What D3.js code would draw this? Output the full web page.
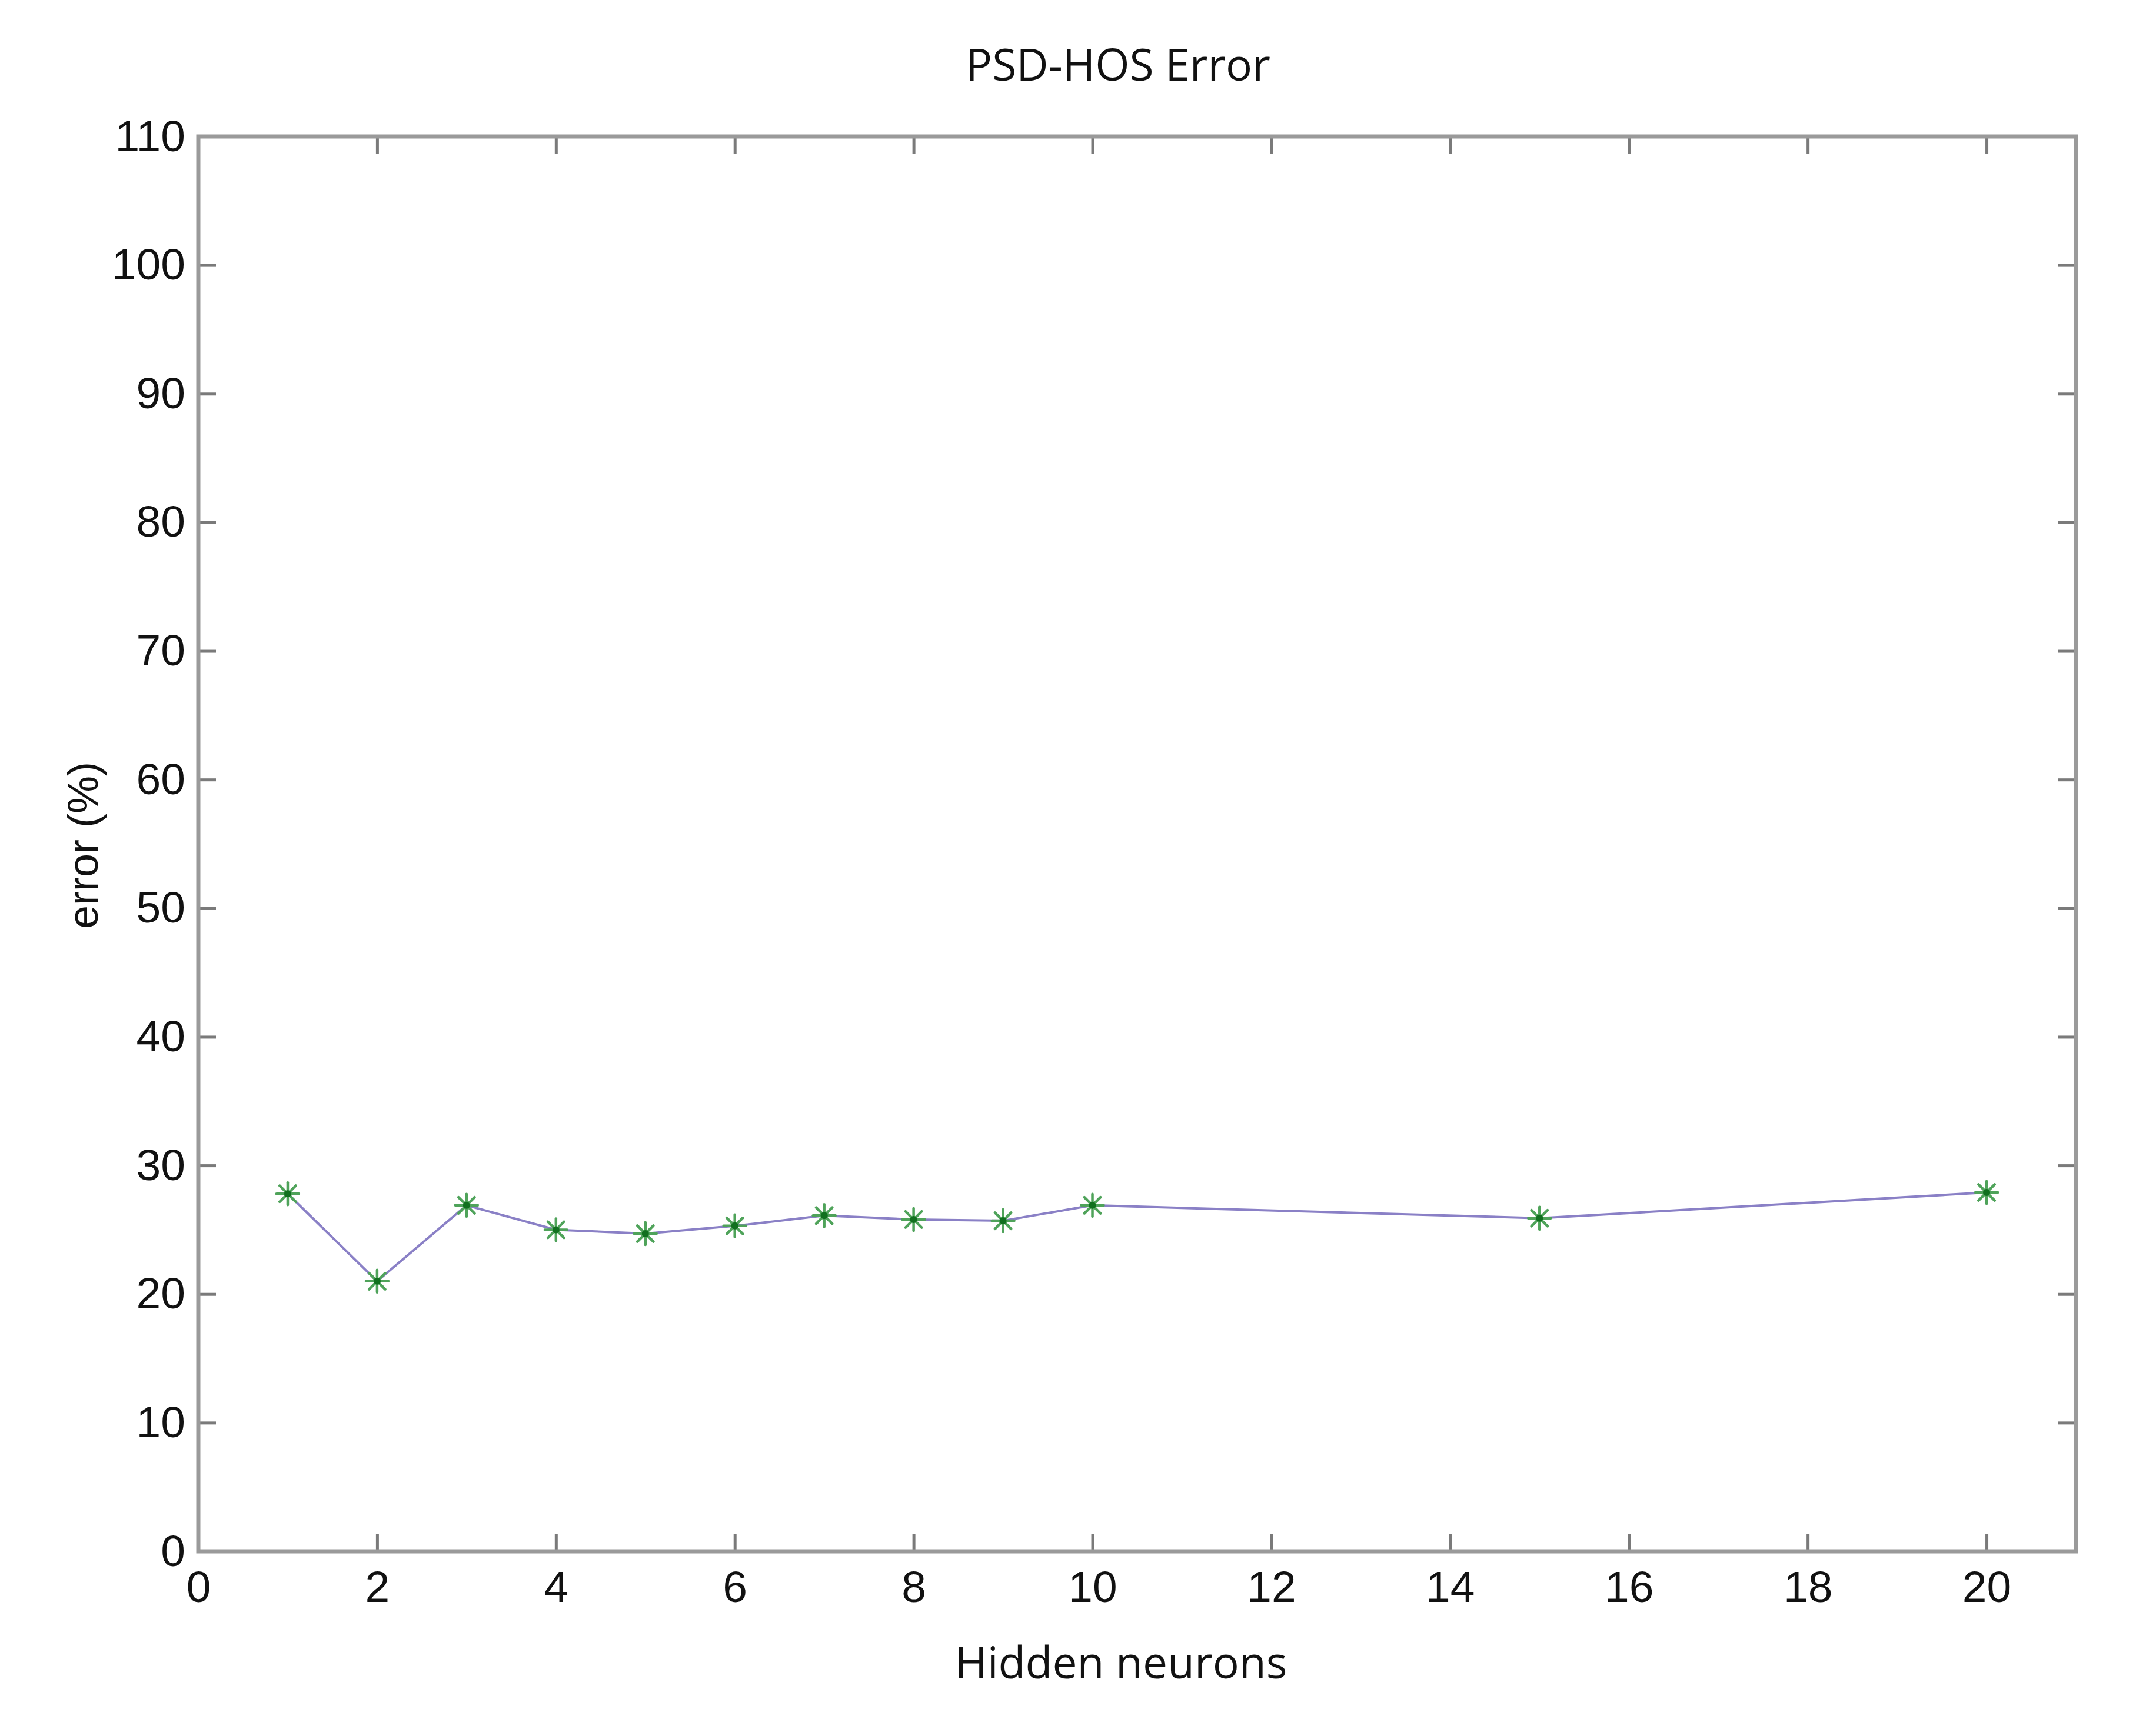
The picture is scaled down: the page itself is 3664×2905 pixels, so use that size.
<!DOCTYPE html>
<html>
<head>
<meta charset="utf-8">
<script src="https://cdn.jsdelivr.net/npm/d3@7"></script>
<style>
  html, body { margin: 0; padding: 0; background: #fff; }
  svg { display: block; }
</style>
</head>
<body>
<svg id="chart" width="3664" height="2905"></svg>
<script>
// ---- data ----
const neurons = [1, 2, 3, 4, 5, 6, 7, 8, 9, 10, 15, 20];
const errorPct = [27.8, 21.0, 26.9, 25.0, 24.7, 25.3, 26.1, 25.8, 25.7, 26.9, 25.9, 27.9];
const xTicks = [0, 2, 4, 6, 8, 10, 12, 14, 16, 18, 20];
const yTicks = [0, 10, 20, 30, 40, 50, 60, 70, 80, 90, 100, 110];
const titleText = "PSD-HOS Error";
const xLabelText = "Hidden neurons";
const yLabelText = "error (%)";

// ---- layout ----
const W = 3664, H = 2905;
const m = { left: 337, right: W - 3528, top: 232, bottom: H - 2637 };
const iw = W - m.left - m.right, ih = H - m.top - m.bottom;

const svg = d3.select("#chart");
const g = svg.append("g").attr("transform", `translate(${m.left},${m.top})`);

const x = d3.scaleLinear().domain([0, 21]).range([0, iw]);
const y = d3.scaleLinear().domain([0, 110]).range([ih, 0]);

const tickFont = "'Liberation Sans', Arial, sans-serif";
const tickLen = 30;
const tickColor = "#7a7a7a";

// axes with inward ticks on all four sides
const axB = g.append("g").attr("transform", `translate(0,${ih})`)
  .call(d3.axisBottom(x).tickValues(xTicks).tickSize(-tickLen).tickPadding(33).tickFormat(d3.format("d")));
const axT = g.append("g")
  .call(d3.axisTop(x).tickValues(xTicks).tickSize(-tickLen).tickFormat(""));
const axL = g.append("g")
  .call(d3.axisLeft(y).tickValues(yTicks).tickSize(-tickLen).tickPadding(22).tickFormat(d3.format("d")));
const axR = g.append("g").attr("transform", `translate(${iw},0)`)
  .call(d3.axisRight(y).tickValues(yTicks).tickSize(-tickLen).tickFormat(""));

[axB, axT, axL, axR].forEach(a => {
  a.select(".domain").remove();
  a.selectAll(".tick line").attr("stroke", tickColor).attr("stroke-width", 5);
  a.selectAll(".tick text").attr("font-family", tickFont).attr("font-size", 75).attr("fill", "#111");
});
axB.selectAll(".tick text").attr("dy", "0.71em");

// frame
g.append("rect").attr("x", 0).attr("y", 0).attr("width", iw).attr("height", ih)
  .attr("fill", "none").attr("stroke", "#9a9a9a").attr("stroke-width", 7);

// line
const line = d3.line().x((d, i) => x(neurons[i])).y(d => y(d));
g.append("path").datum(errorPct)
  .attr("d", line)
  .attr("fill", "none")
  .attr("stroke", "#8a80c6")
  .attr("stroke-width", 4);

// asterisk markers
const r = 19;
const mk = g.append("g").selectAll("g.mk").data(errorPct).join("g")
  .attr("class", "mk")
  .attr("transform", (d, i) => `translate(${x(neurons[i])},${y(d)})`);
const arms = [[0, -r, 0, r], [-r, 0, r, 0], [-r*0.72, -r*0.72, r*0.72, r*0.72], [-r*0.72, r*0.72, r*0.72, -r*0.72]];
arms.forEach(a => {
  mk.append("line").attr("x1", a[0]).attr("y1", a[1]).attr("x2", a[2]).attr("y2", a[3])
    .attr("stroke", "#4fa35a").attr("stroke-width", 4.5).attr("stroke-linecap", "round");
});
mk.append("circle").attr("r", 6).attr("fill", "#11701f");

// title & labels
const labelFont = "'Open Sans', 'Noto Sans', sans-serif";
svg.append("text").attr("x", 1900).attr("y", 137)
  .attr("text-anchor", "middle").attr("font-family", labelFont).attr("font-size", 75)
  .attr("fill", "#111").text(titleText);
svg.append("text").attr("x", 1905).attr("y", 2853)
  .attr("text-anchor", "middle").attr("font-family", labelFont).attr("font-size", 75)
  .attr("fill", "#111").text(xLabelText);
svg.append("text").attr("transform", `translate(166,1437) rotate(-90)`)
  .attr("text-anchor", "middle").attr("font-family", tickFont).attr("font-size", 72)
  .attr("fill", "#111").text(yLabelText);
</script>
</body>
</html>
